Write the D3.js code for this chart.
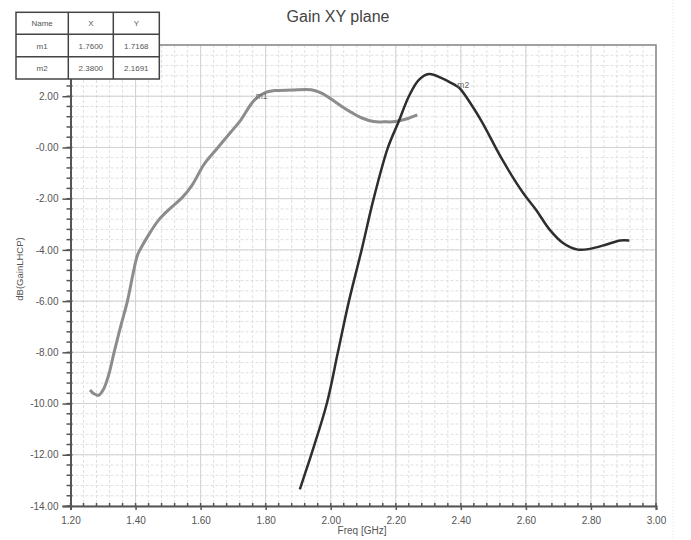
<!DOCTYPE html>
<html><head><meta charset="utf-8">
<script src="https://cdn.jsdelivr.net/npm/d3@7"></script>
<style>body{margin:0;background:#fff}svg{display:block}text{font-family:"Liberation Sans",Arial,sans-serif}</style>
</head><body><svg id="c" width="691" height="540"></svg>
<script>
const title = "Gain XY plane";
const xLabel = "Freq [GHz]";
const yLabel = "dB(GainLHCP)";
const xTicks = [1.2,1.4,1.6,1.8,2.0,2.2,2.4,2.6,2.8,3.0];
const yTicks = [2,0,-2,-4,-6,-8,-10,-12,-14];
const yTickLabels = ["2.00","-0.00","-2.00","-4.00","-6.00","-8.00","-10.00","-12.00","-14.00"];
const tableHeader = ["Name","X","Y"];
const markerNames = ["m1","m2"];
const markerX = [1.76, 2.38];
const markerY = [1.7168, 2.1691];
const markerXText = ["1.7600","2.3800"];
const markerYText = ["1.7168","2.1691"];
// series 1 (grey, m1)
const freq1 = [1.260,1.272,1.286,1.301,1.318,1.334,1.355,1.375,1.392,1.406,1.420,1.436,1.472,1.508,1.544,1.575,1.611,1.652,1.693,1.724,1.765,1.800,1.827,1.880,1.940,1.972,2.000,2.034,2.066,2.096,2.132,2.165,2.199,2.235,2.266];
const gain1 = [-9.47,-9.62,-9.68,-9.45,-8.85,-8.00,-6.95,-6.00,-4.95,-4.20,-3.85,-3.50,-2.82,-2.36,-1.95,-1.45,-0.65,-0.02,0.60,1.08,1.85,2.15,2.22,2.24,2.25,2.12,1.90,1.60,1.35,1.15,1.01,1.00,1.01,1.12,1.27];
// series 2 (dark, m2)
const freq2 = [1.905,1.922,1.940,1.988,2.022,2.056,2.095,2.132,2.176,2.209,2.240,2.271,2.302,2.343,2.380,2.395,2.436,2.467,2.528,2.590,2.631,2.673,2.714,2.760,2.797,2.848,2.890,2.918];
const gain2 = [-13.35,-12.70,-12.00,-10.00,-8.00,-6.00,-4.00,-2.00,0.00,1.01,1.99,2.64,2.87,2.70,2.45,2.33,1.60,0.95,-0.49,-1.75,-2.43,-3.21,-3.73,-3.99,-3.96,-3.79,-3.63,-3.63];

const svg = d3.select("#c");
const L=70.5, R=656, T=45, B=506;
const x = d3.scaleLinear().domain([1.2,3.0]).range([L,R]);
const y = d3.scaleLinear().domain([-14,4]).range([B,T]);

svg.append("line").attr("x1",673).attr("x2",673).attr("y1",0).attr("y2",540)
  .attr("stroke","#e4e4e4").attr("stroke-dasharray","1,2");

// grid
const xMinor = d3.range(1.2,3.0001,0.04).map(v=>+v.toFixed(2));
const yMinor = d3.range(-14,4.0001,0.4).map(v=>+v.toFixed(1));
const g = svg.append("g");
g.selectAll(".vx").data(xMinor).join("line")
  .attr("x1",d=>x(d)).attr("x2",d=>x(d)).attr("y1",T).attr("y2",B)
  .attr("stroke","#e0e0e0").attr("stroke-width",1).attr("stroke-dasharray","3,2");
g.selectAll(".hy").data(yMinor).join("line")
  .attr("y1",d=>y(d)).attr("y2",d=>y(d)).attr("x1",L).attr("x2",R)
  .attr("stroke","#e0e0e0").attr("stroke-width",1).attr("stroke-dasharray","3,2");
g.selectAll(".vX").data(xTicks).join("line")
  .attr("x1",d=>x(d)).attr("x2",d=>x(d)).attr("y1",T).attr("y2",B)
  .attr("stroke","#d2d2d2").attr("stroke-width",1);
g.selectAll(".hY").data(d3.range(-14,4.001,2)).join("line")
  .attr("y1",d=>y(d)).attr("y2",d=>y(d)).attr("x1",L).attr("x2",R)
  .attr("stroke","#d2d2d2").attr("stroke-width",1);

svg.append("path").attr("d",`M${L},${T}H${R}V${B}`).attr("fill","none").attr("stroke","#8a8a8a").attr("stroke-width",1.5);

// axes
const xAxis = d3.axisBottom(x).tickValues(xTicks).tickFormat(d3.format(".2f")).tickSize(4);
const yAxis = d3.axisLeft(y).tickValues(yTicks).tickFormat((d,i)=>yTickLabels[i]).tickSize(8);
const gx = svg.append("g").attr("transform",`translate(0,${B})`).call(xAxis);
const gy = svg.append("g").attr("transform",`translate(${L},0)`).call(yAxis);
[gx,gy].forEach(a=>{
  a.select(".domain").attr("stroke","#555").attr("stroke-width",2);
  a.selectAll(".tick line").attr("stroke","#555").attr("stroke-width",1.5);
  a.selectAll("text").attr("fill","#555").attr("font-size",10).attr("font-family","Liberation Sans, Arial, sans-serif");
});
gx.selectAll("text").attr("dy","1.1em");
gy.selectAll("text").attr("dx","-1");
svg.append("g").selectAll("line").data(xMinor).join("line")
  .attr("x1",d=>x(d)).attr("x2",d=>x(d)).attr("y1",B-3).attr("y2",B)
  .attr("stroke","#555").attr("stroke-width",1.5);
svg.append("g").selectAll("line").data(yMinor).join("line")
  .attr("y1",d=>y(d)).attr("y2",d=>y(d)).attr("x1",L-4).attr("x2",L+2)
  .attr("stroke","#555").attr("stroke-width",1.5);

// curves
const line = d3.line().x(d=>x(d[0])).y(d=>y(d[1])).curve(d3.curveCatmullRom.alpha(0.5));
svg.append("path").datum(d3.zip(freq1,gain1)).attr("d",line)
  .attr("fill","none").attr("stroke","#8c8c8c").attr("stroke-width",3).attr("stroke-linejoin","round");
svg.append("path").datum(d3.zip(freq2,gain2)).attr("d",line)
  .attr("fill","none").attr("stroke","#2e2e2e").attr("stroke-width",2.5).attr("stroke-linejoin","round");

// marker labels
const mk = svg.append("g");
markerNames.forEach((n,i)=>{
  mk.append("text").attr("x",x(markerX[i])+3).attr("y",y(markerY[i])-4)
    .attr("font-size",8.5).attr("fill","#666").text(n);
});

// title & labels
svg.append("text").attr("x",338).attr("y",22).attr("text-anchor","middle")
  .attr("font-size",16).attr("fill","#444").text(title);
svg.append("text").attr("x",362).attr("y",534).attr("text-anchor","middle")
  .attr("font-size",10).attr("fill","#555").text(xLabel);
svg.append("text").attr("transform","translate(23,269) rotate(-90)").attr("text-anchor","middle")
  .attr("font-size",9.5).attr("fill","#555").text(yLabel);

// marker table
const colX = [16,68.3,113.3,159.3];
const rowY = [12.3,34.3,56.7,79];
const rows = [tableHeader].concat(markerNames.map((n,i)=>[n,markerXText[i],markerYText[i]]));
const tb = svg.append("g");
tb.append("rect").attr("x",colX[0]).attr("y",rowY[0]).attr("width",colX[3]-colX[0]).attr("height",rowY[3]-rowY[0])
  .attr("fill","#fff").attr("stroke","#444").attr("stroke-width",1.5);
[1,2].forEach(i=>{
  tb.append("line").attr("x1",colX[i]).attr("x2",colX[i]).attr("y1",rowY[0]).attr("y2",rowY[3]).attr("stroke","#444").attr("stroke-width",1.5);
  tb.append("line").attr("y1",rowY[i]).attr("y2",rowY[i]).attr("x1",colX[0]).attr("x2",colX[3]).attr("stroke","#444").attr("stroke-width",1.5);
});
rows.forEach((r,ri)=>r.forEach((c,ci)=>{
  tb.append("text").attr("x",(colX[ci]+colX[ci+1])/2).attr("y",(rowY[ri]+rowY[ri+1])/2+3)
    .attr("text-anchor","middle").attr("font-size",8).attr("fill","#555").text(c);
}));
</script></body></html>
